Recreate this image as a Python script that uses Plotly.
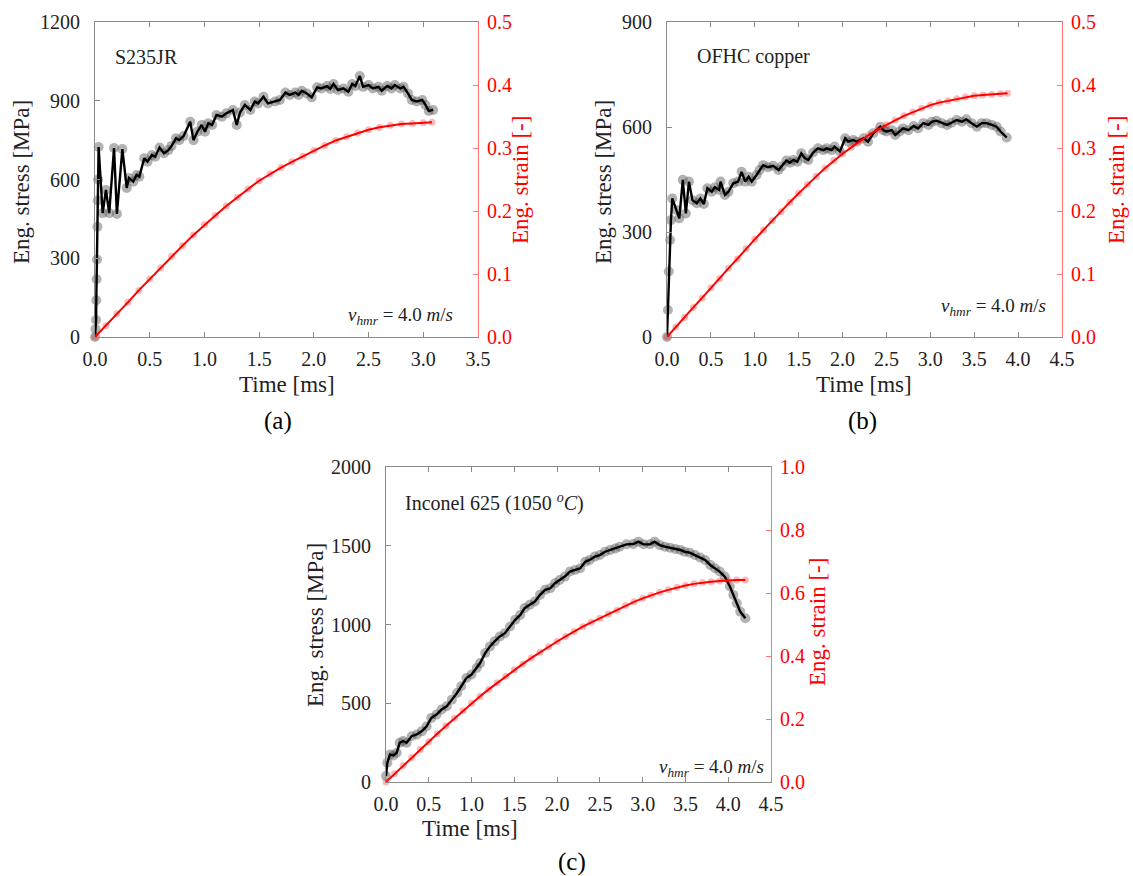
import plotly.graph_objects as go

# ---------------- data ----------------
# (a) S235JR
a_time_s = [0.0, 0.005, 0.01, 0.012, 0.015, 0.018, 0.022, 0.025, 0.028, 0.033, 0.07, 0.10, 0.13, 0.174, 0.20,
            0.25, 0.29, 0.31, 0.35, 0.38, 0.405, 0.45, 0.48, 0.52, 0.55, 0.59, 0.63, 0.67, 0.70, 0.74, 0.77,
            0.81, 0.87, 0.90, 0.935, 0.975, 1.005, 1.035, 1.07, 1.11, 1.16, 1.20, 1.26, 1.295, 1.325, 1.37,
            1.42, 1.46, 1.49, 1.54, 1.58, 1.645, 1.69, 1.74, 1.78, 1.83, 1.86, 1.89, 1.935, 1.98, 2.03, 2.07,
            2.12, 2.15, 2.18, 2.22, 2.27, 2.315, 2.35, 2.38, 2.42, 2.45, 2.50, 2.54, 2.59, 2.62, 2.67, 2.71,
            2.74, 2.79, 2.82, 2.86, 2.895, 2.94, 2.99, 3.02, 3.05, 3.09]
a_stress = [0, 30, 65, 140, 220, 295, 420, 520, 600, 724, 472, 560, 472, 720, 469, 716, 568, 606, 592, 617,
            611, 681, 668, 693, 687, 722, 700, 712, 728, 757, 750, 766, 820, 750, 782, 808, 782, 814, 808, 846,
            839, 852, 865, 808, 855, 884, 865, 897, 890, 915, 890, 897, 903, 931, 922, 931, 922, 938, 928, 913,
            951, 947, 956, 945, 964, 941, 947, 934, 964, 956, 994, 953, 960, 947, 953, 938, 956, 947, 960, 947,
            953, 928, 903, 897, 903, 884, 861, 865]
a_time_e = [0.0, 0.1, 0.2, 0.3, 0.4, 0.5, 0.6, 0.7, 0.8, 0.9, 1.0, 1.1, 1.2, 1.3, 1.4, 1.5, 1.6, 1.7, 1.8,
            1.9, 2.0, 2.1, 2.2, 2.3, 2.4, 2.5, 2.6, 2.7, 2.8, 2.9, 3.0, 3.08]
a_strain = [0.000, 0.018, 0.037, 0.055, 0.074, 0.092, 0.110, 0.128, 0.145, 0.162, 0.178, 0.193, 0.208, 0.222,
            0.235, 0.248, 0.259, 0.269, 0.278, 0.287, 0.296, 0.304, 0.312, 0.318, 0.324, 0.329, 0.333, 0.336,
            0.338, 0.339, 0.340, 0.341]

# (b) OFHC copper
b_time_s = [0.0, 0.01, 0.02, 0.035, 0.045, 0.06, 0.11, 0.14, 0.18, 0.215, 0.25, 0.29, 0.34, 0.38, 0.42, 0.46,
            0.51, 0.545, 0.595, 0.61, 0.66, 0.70, 0.755, 0.81, 0.85, 0.89, 0.93, 0.965, 1.02, 1.055, 1.095,
            1.15, 1.21, 1.27, 1.305, 1.36, 1.40, 1.44, 1.485, 1.53, 1.57, 1.61, 1.665, 1.72, 1.78, 1.82, 1.875,
            1.91, 1.97, 2.03, 2.065, 2.12, 2.16, 2.24, 2.29, 2.35, 2.43, 2.465, 2.50, 2.56, 2.60, 2.65, 2.69,
            2.75, 2.81, 2.86, 2.92, 2.98, 3.015, 3.07, 3.13, 3.19, 3.24, 3.30, 3.36, 3.41, 3.47, 3.53, 3.585,
            3.64, 3.70, 3.755, 3.80, 3.87]
b_stress = [0, 77, 187, 277, 334, 396, 363, 339, 449, 353, 444, 391, 382, 396, 380, 425, 415, 428, 420, 444,
            406, 415, 439, 444, 472, 444, 458, 444, 463, 477, 491, 485, 489, 477, 487, 504, 498, 506, 501, 525,
            511, 506, 527, 539, 534, 539, 534, 544, 530, 568, 558, 563, 558, 568, 558, 582, 601, 591, 587, 591,
            577, 587, 596, 591, 603, 596, 611, 606, 615, 618, 611, 606, 612, 620, 615, 622, 611, 601, 611, 611,
            606, 601, 587, 570]
b_time_e = [0.0, 0.1, 0.2, 0.3, 0.4, 0.5, 0.6, 0.7, 0.8, 0.9, 1.0, 1.1, 1.2, 1.3, 1.4, 1.5, 1.6, 1.7, 1.8,
            1.9, 2.0, 2.1, 2.2, 2.3, 2.4, 2.5, 2.6, 2.7, 2.8, 2.9, 3.0, 3.1, 3.2, 3.3, 3.4, 3.5, 3.6, 3.7,
            3.8, 3.88]
b_strain = [0.000, 0.016, 0.031, 0.047, 0.062, 0.078, 0.093, 0.109, 0.124, 0.140, 0.155, 0.170, 0.185, 0.199,
            0.214, 0.228, 0.242, 0.255, 0.268, 0.280, 0.291, 0.301, 0.311, 0.321, 0.329, 0.337, 0.344, 0.351,
            0.357, 0.363, 0.368, 0.372, 0.375, 0.378, 0.381, 0.383, 0.384, 0.385, 0.386, 0.387]

# (c) Inconel 625 (1050 C)
c_time_s = [0.0, 0.016, 0.047, 0.086, 0.125, 0.16, 0.20, 0.24, 0.30, 0.36, 0.42, 0.475, 0.53, 0.59, 0.65,
            0.71, 0.77, 0.83, 0.88, 0.94, 1.00, 1.06, 1.10, 1.16, 1.215, 1.27, 1.33, 1.39, 1.45, 1.51, 1.57,
            1.62, 1.68, 1.74, 1.80, 1.86, 1.92, 1.975, 2.03, 2.09, 2.15, 2.21, 2.27, 2.33, 2.38, 2.44, 2.50,
            2.56, 2.62, 2.68, 2.73, 2.81, 2.89, 2.95, 3.01, 3.085, 3.14, 3.20, 3.26, 3.32, 3.38, 3.44, 3.49,
            3.55, 3.61, 3.67, 3.73, 3.79, 3.845, 3.90, 3.96, 4.02, 4.06, 4.10, 4.14, 4.20]
c_stress = [38, 122, 175, 169, 186, 249, 260, 249, 291, 302, 323, 354, 407, 428, 460, 481, 523, 565, 608, 660,
            682, 724, 755, 819, 861, 893, 924, 945, 987, 1030, 1061, 1104, 1125, 1146, 1188, 1220, 1230, 1262,
            1283, 1304, 1336, 1346, 1357, 1399, 1410, 1431, 1441, 1462, 1473, 1483, 1494, 1509, 1511, 1526,
            1509, 1509, 1526, 1504, 1494, 1488, 1479, 1473, 1462, 1456, 1441, 1426, 1410, 1378, 1357, 1336,
            1304, 1241, 1188, 1135, 1082, 1040]
c_time_e = [0.0, 0.1, 0.2, 0.3, 0.4, 0.5, 0.6, 0.7, 0.8, 0.9, 1.0, 1.1, 1.2, 1.3, 1.4, 1.5, 1.6, 1.7, 1.8,
            1.9, 2.0, 2.1, 2.2, 2.3, 2.4, 2.5, 2.6, 2.7, 2.8, 2.9, 3.0, 3.1, 3.2, 3.3, 3.4, 3.5, 3.6, 3.7,
            3.8, 3.9, 4.0, 4.1, 4.2]
c_strain = [0.000, 0.026, 0.052, 0.078, 0.103, 0.128, 0.153, 0.178, 0.202, 0.226, 0.250, 0.272, 0.294, 0.315,
            0.336, 0.356, 0.375, 0.394, 0.412, 0.429, 0.446, 0.462, 0.478, 0.493, 0.507, 0.520, 0.533, 0.545,
            0.560, 0.572, 0.583, 0.593, 0.602, 0.610, 0.618, 0.624, 0.629, 0.633, 0.636, 0.638, 0.640, 0.641,
            0.641]

assert len(a_time_s) == len(a_stress) and len(a_time_e) == len(a_strain)
assert len(b_time_s) == len(b_stress) and len(b_time_e) == len(b_strain)
assert len(c_time_s) == len(c_stress) and len(c_time_e) == len(c_strain)

# ---------------- figure ----------------
W, H = 1133, 876
def fx(x):
    return x / W
def fy(y):
    return 1 - y / H

SERIF = "Liberation Serif"
GRAY = "#8a8a8a"
RED = "#ff0000"
RED_LINE = "rgba(255,0,0,0.55)"
TICK_FONT = dict(family=SERIF, size=20, color="#222222")

fig = go.Figure()

panels = [
    ("x", "y", "y2", a_time_s, a_stress, a_time_e, a_strain),
    ("x2", "y3", "y4", b_time_s, b_stress, b_time_e, b_strain),
    ("x3", "y5", "y6", c_time_s, c_stress, c_time_e, c_strain),
]

for xa, ya, ya2, ts, s, te, e in panels:
    fig.add_trace(go.Scatter(x=ts, y=s, mode="markers", xaxis=xa, yaxis=ya, showlegend=False,
                             marker=dict(size=10, color="rgba(85,85,85,0.45)", line=dict(width=0)),
                             cliponaxis=False, hoverinfo="skip"))
    fig.add_trace(go.Scatter(x=ts, y=s, mode="lines", xaxis=xa, yaxis=ya, showlegend=False,
                             line=dict(color="black", width=2.4), cliponaxis=False))
    fig.add_trace(go.Scatter(x=te, y=e, mode="markers", xaxis=xa, yaxis=ya2, showlegend=False,
                             marker=dict(size=7, color="rgba(255,0,0,0.28)", line=dict(width=0)),
                             cliponaxis=False, hoverinfo="skip"))
    fig.add_trace(go.Scatter(x=te, y=e, mode="lines", xaxis=xa, yaxis=ya2, showlegend=False,
                             line=dict(color=RED, width=2), cliponaxis=False))


def xaxis(domain, rng, anchor):
    return dict(domain=domain, range=rng, anchor=anchor, dtick=0.5, tick0=0, tickformat=".1f",
                ticks="inside", ticklen=5, tickcolor=GRAY, showline=True, linecolor=GRAY, linewidth=1,
                mirror="ticks", showgrid=False, zeroline=False, tickfont=TICK_FONT, fixedrange=True,
                automargin=False, ticklabelstandoff=4)


def yaxis_left(domain, rng, dtick, anchor):
    return dict(domain=domain, range=rng, anchor=anchor, dtick=dtick, tick0=0,
                ticks="inside", ticklen=5, tickcolor=GRAY, showline=True, linecolor=GRAY, linewidth=1,
                showgrid=False, zeroline=False, tickfont=TICK_FONT, fixedrange=True,
                automargin=False, ticklabelstandoff=10)


def yaxis_right(overlay, rng, dtick, anchor):
    return dict(overlaying=overlay, side="right", range=rng, anchor=anchor, dtick=dtick, tick0=0,
                tickformat=".1f", ticks="inside", ticklen=5, tickcolor=RED_LINE, showline=True,
                linecolor=RED_LINE, linewidth=1, showgrid=False, zeroline=False,
                tickfont=dict(family=SERIF, size=20, color=RED), fixedrange=True,
                automargin=False, ticklabelstandoff=4)


dom_top = [fy(337), fy(22)]
dom_bot = [fy(782), fy(467)]

fig.update_layout(
    width=W, height=H,
    margin=dict(l=0, r=0, t=0, b=0, pad=0, autoexpand=False),
    paper_bgcolor="white", plot_bgcolor="white",
    showlegend=False,
    xaxis=xaxis([fx(95), fx(478)], [0, 3.5], "y"),
    yaxis=yaxis_left(dom_top, [0, 1200], 300, "x"),
    yaxis2=yaxis_right("y", [0, 0.5], 0.1, "x"),
    xaxis2=xaxis([fx(667), fx(1062)], [0, 4.5], "y3"),
    yaxis3=yaxis_left(dom_top, [0, 900], 300, "x2"),
    yaxis4=yaxis_right("y3", [0, 0.5], 0.1, "x2"),
    xaxis3=xaxis([fx(386), fx(771)], [0, 4.5], "y5"),
    yaxis5=yaxis_left(dom_bot, [0, 2000], 500, "x3"),
    yaxis6=yaxis_right("y5", [0, 1.0], 0.2, "x3"),
)

TITLE_FONT = dict(family=SERIF, size=23, color="#222222")
RED_TITLE_FONT = dict(family=SERIF, size=23, color=RED)
TEXT_FONT = dict(family=SERIF, size=20, color="#222222")
annos = []


def add(text, x, y, font, angle=0, xanchor="center", yanchor="middle"):
    annos.append(dict(text=text, x=fx(x), y=fy(y), xref="paper", yref="paper", showarrow=False,
                      font=font, textangle=angle, xanchor=xanchor, yanchor=yanchor))


# axis titles
add("Eng. stress [MPa]", 21, 182, TITLE_FONT, -90)
add("Eng. strain [-]", 521, 180, RED_TITLE_FONT, -90)
add("Time [ms]", 287, 384, TITLE_FONT)
add("Eng. stress [MPa]", 603, 182, TITLE_FONT, -90)
add("Eng. strain [-]", 1117, 180, RED_TITLE_FONT, -90)
add("Time [ms]", 864, 384, TITLE_FONT)
add("Eng. stress [MPa]", 315, 625, TITLE_FONT, -90)
add("Eng. strain [-]", 817, 622, RED_TITLE_FONT, -90)
add("Time [ms]", 470, 828, TITLE_FONT)

# panel labels
PANEL_FONT = dict(family=SERIF, size=25, color="black")
add("(a)", 278, 421, PANEL_FONT)
add("(b)", 862, 421, PANEL_FONT)
add("(c)", 572, 862, PANEL_FONT)

# in-plot texts
add("S235JR", 113, 57, TEXT_FONT, xanchor="left")
add("OFHC copper", 695, 56, TEXT_FONT, xanchor="left")
add("Inconel 625 (1050 <sup><i>o</i></sup><i>C</i>)", 403, 502, TEXT_FONT, xanchor="left")
VFONT = dict(family=SERIF, size=19, color="#222222")
vtext = "<i>v</i><sub><i>hmr</i></sub> = 4.0 <i>m</i>/<i>s</i>"
add(vtext, 455, 316, VFONT, xanchor="right")
add(vtext, 1048, 307, VFONT, xanchor="right")
add(vtext, 766, 768, VFONT, xanchor="right")

fig.update_layout(annotations=annos)

fig.write_html("out.html")
